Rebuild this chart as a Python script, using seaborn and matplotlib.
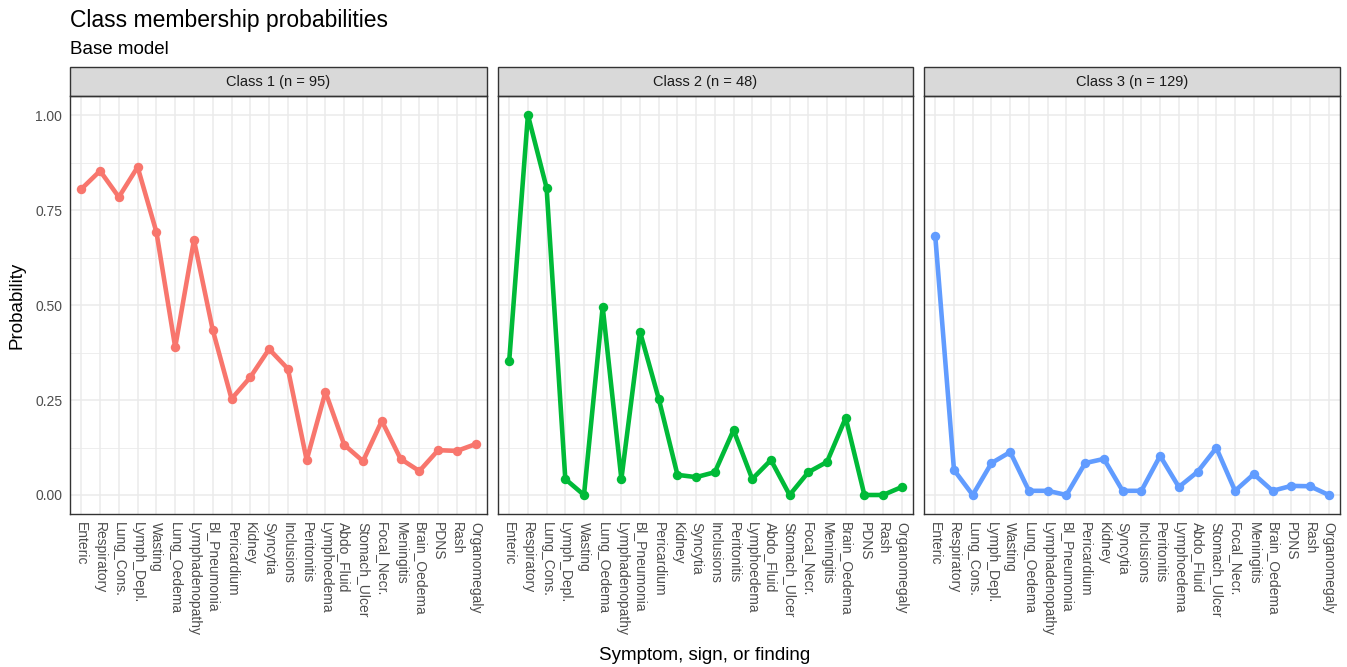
import numpy as np
import pandas as pd
import matplotlib
matplotlib.use("Agg")
import matplotlib.pyplot as plt
from matplotlib.patches import Rectangle
from matplotlib.ticker import FixedLocator, FormatStrFormatter, NullLocator
import seaborn as sns

symptoms = ["Enteric", "Respiratory", "Lung_Cons.", "Lymph_Depl.", "Wasting",
            "Lung_Oedema", "Lymphadenopathy", "Bl_Pneumonia", "Pericardium",
            "Kidney", "Syncytia", "Inclusions", "Peritonitis", "Lymphoedema",
            "Abdo_Fluid", "Stomach_Ulcer", "Focal_Necr.", "Meningitis",
            "Brain_Oedema", "PDNS", "Rash", "Organomegaly"]

class_labels = ["Class 1 (n = 95)", "Class 2 (n = 48)", "Class 3 (n = 129)"]

class1 = [0.805, 0.853, 0.784, 0.863, 0.692, 0.389, 0.671, 0.434, 0.253,
          0.310, 0.384, 0.332, 0.092, 0.271, 0.132, 0.089, 0.195, 0.095,
          0.063, 0.118, 0.116, 0.134]
class2 = [0.353, 1.000, 0.808, 0.042, 0.000, 0.495, 0.042, 0.429, 0.253,
          0.053, 0.047, 0.060, 0.171, 0.042, 0.092, 0.000, 0.060, 0.087,
          0.203, 0.000, 0.000, 0.021]
class3 = [0.682, 0.066, 0.000, 0.084, 0.113, 0.011, 0.011, 0.000, 0.084,
          0.095, 0.011, 0.011, 0.103, 0.021, 0.061, 0.124, 0.011, 0.055,
          0.011, 0.024, 0.023, 0.000]

y_major = [0.0, 0.25, 0.5, 0.75, 1.0]
y_minor = [0.125, 0.375, 0.625, 0.875]

palette = ["#F8766D", "#00BA38", "#619CFF"]

frames = []
for lab, vals in zip(class_labels, [class1, class2, class3]):
    frames.append(pd.DataFrame({"cls": lab, "symptom": symptoms,
                                "pos": np.arange(len(symptoms)),
                                "prob": vals}))
df = pd.concat(frames, ignore_index=True)

sns.set_style("white")
plt.rcParams["font.family"] = ["Liberation Sans", "DejaVu Sans"]

W, H = 1347, 667
fig = plt.figure(figsize=(W / 100, H / 100), dpi=100)

panels = [(70, 487), (498, 913), (924, 1340)]
top_px, bot_px = 96, 514
strip_px = 29

for i, ((x0, x1), lab, col) in enumerate(zip(panels, class_labels, palette)):
    ax = fig.add_axes([x0 / W, 1 - bot_px / H, (x1 - x0) / W, (bot_px - top_px) / H])
    sub = df[df["cls"] == lab]
    sns.lineplot(data=sub, x="pos", y="prob", ax=ax, color=col, linewidth=3.3,
                 marker="o", markersize=6.8, markeredgewidth=0, legend=False,
                 zorder=3)
    ax.set_xlim(-0.6, len(symptoms) - 1 + 0.6)
    ax.set_ylim(-0.05, 1.05)
    ax.xaxis.set_major_locator(FixedLocator(np.arange(len(symptoms))))
    ax.xaxis.set_minor_locator(NullLocator())
    ax.set_xticklabels(symptoms, rotation=270, fontsize=10, color="#4D4D4D")
    ax.yaxis.set_major_locator(FixedLocator(y_major))
    ax.yaxis.set_minor_locator(FixedLocator(y_minor))
    ax.yaxis.set_major_formatter(FormatStrFormatter("%.2f"))
    ax.grid(True, which="major", color="#EBEBEB", linewidth=1.1, zorder=0)
    ax.grid(True, which="minor", axis="y", color="#EBEBEB", linewidth=0.6, zorder=0)
    ax.set_axisbelow(True)
    ax.tick_params(axis="x", length=3.5, width=0.9, color="#333333", pad=2)
    ax.tick_params(axis="y", which="major", length=3.5, width=0.9, color="#333333",
                   labelsize=10, labelcolor="#4D4D4D", pad=2)
    ax.tick_params(axis="y", which="minor", length=0)
    if i > 0:
        ax.tick_params(axis="y", which="major", length=0, labelleft=False)
    ax.set_xlabel("")
    ax.set_ylabel("")
    for sp in ax.spines.values():
        sp.set_edgecolor("#333333")
        sp.set_linewidth(1.0)
    # facet strip
    h = strip_px / (bot_px - top_px)
    ax.add_patch(Rectangle((0, 1), 1, h, transform=ax.transAxes, clip_on=False,
                           facecolor="#D9D9D9", edgecolor="#333333", linewidth=1.0))
    ax.text(0.5, 1 + h / 2, lab, transform=ax.transAxes, ha="center", va="center",
            fontsize=10.5, color="#1A1A1A")

fig.text(70 / W, 1 - 27 / H, "Class membership probabilities", fontsize=16.5,
         ha="left", va="baseline", color="black")
fig.text(70 / W, 1 - 54 / H, "Base model", fontsize=13.5,
         ha="left", va="baseline", color="black")
fig.text(705 / W, 1 - 660 / H, "Symptom, sign, or finding", fontsize=13.5,
         ha="center", va="baseline", color="black")
fig.text(17 / W, 1 - 305 / H, "Probability", fontsize=13.5, rotation=90,
         ha="center", va="center", color="black")

fig.savefig("out.png", dpi=100, facecolor="white")
